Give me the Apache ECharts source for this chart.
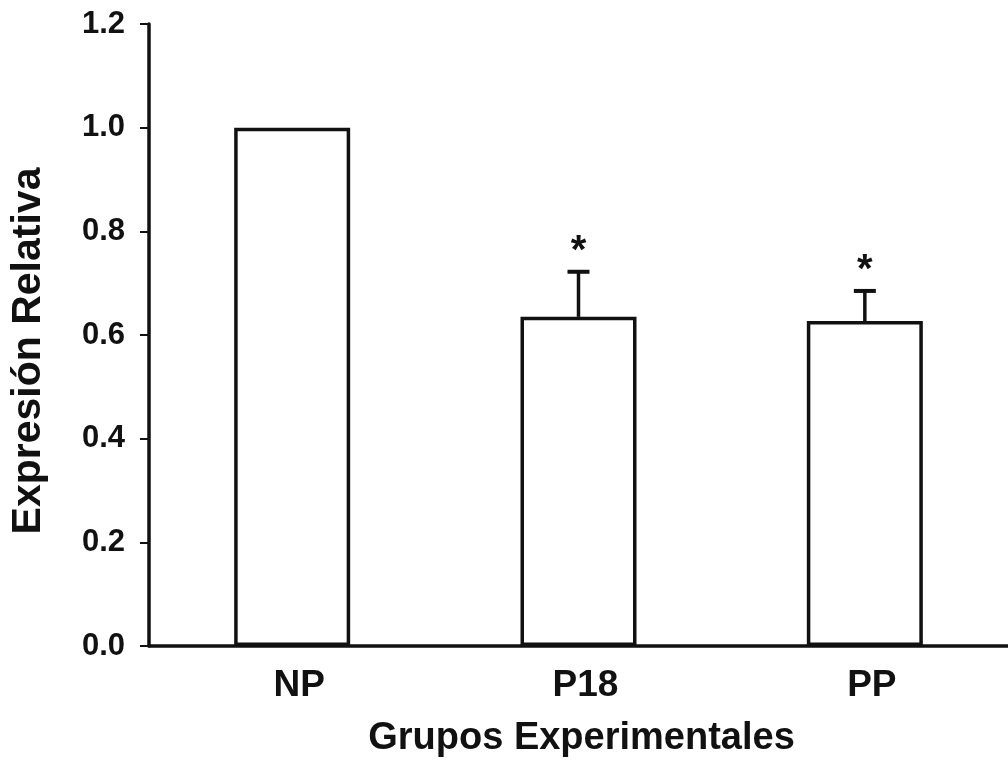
<!DOCTYPE html>
<html>
<head>
<meta charset="utf-8">
<script src="https://cdn.jsdelivr.net/npm/echarts@6/dist/echarts.min.js"></script>
<style>html,body{margin:0;padding:0;background:#fff;}#c{width:1008px;height:765px;}</style>
</head>
<body>
<div id="c"></div>
<script>
const categories = ['NP', 'P18', 'PP'];
const values = [1.0, 0.635, 0.627];
const errors = [0, 0.087, 0.058];
const marks = ['', '*', '*'];
const yTicks = [0, 0.2, 0.4, 0.6, 0.8, 1.0, 1.2];

const ink = '#111';
const font = '"Liberation Sans", Arial, sans-serif';
const chart = echarts.init(document.getElementById('c'));

const errData = categories.map((c, i) => [i, values[i], errors[i], marks[i]]);

chart.setOption({
  backgroundColor: '#fff',
  animation: false,
  grid: { left: 146, top: 24, height: 622, width: 864 },
  xAxis: {
    type: 'category',
    data: categories,
    name: 'Grupos Experimentales',
    nameLocation: 'middle',
    nameGap: 74,
    nameTextStyle: { fontFamily: font, fontWeight: 'bold', fontSize: 38, color: ink, padding: [0, 0, 0, 6] },
    axisLine: { lineStyle: { color: ink, width: 3.5 } },
    axisTick: { show: false },
    axisLabel: { fontFamily: font, fontWeight: 'bold', fontSize: 37, color: ink, margin: 21, padding: [0, 0, 0, 14] }
  },
  yAxis: {
    type: 'value',
    min: yTicks[0],
    max: yTicks[yTicks.length - 1],
    interval: 0.2,
    name: 'Expresión Relativa',
    nameLocation: 'middle',
    nameGap: 100,
    nameTextStyle: { fontFamily: font, fontWeight: 'bold', fontSize: 41, color: ink, padding: [0, 32, 0, 0] },
    axisLine: { show: true, lineStyle: { color: ink, width: 3.5 } },
    axisTick: { show: true, length: 9, lineStyle: { color: ink, width: 2 } },
    splitLine: { show: false },
    axisLabel: { fontFamily: font, fontWeight: 'bold', fontSize: 31, color: ink, margin: 24,
      formatter: v => v.toFixed(1) }
  },
  series: [
    {
      type: 'bar',
      data: values,
      barWidth: 116,
      itemStyle: { color: '#fff', borderColor: ink, borderWidth: 3.5 },
      z: 3
    },
    {
      type: 'custom',
      data: errData,
      z: 2,
      renderItem: function (params, api) {
        const i = api.value(0);
        const v = api.value(1);
        const e = api.value(2);
        const m = marks[params.dataIndex];
        const children = [];
        if (e > 0) {
          const p0 = api.coord([i, v]);
          const p1 = api.coord([i, v + e]);
          children.push({ type: 'line', shape: { x1: p0[0], y1: p0[1], x2: p1[0], y2: p1[1] },
            style: { stroke: ink, lineWidth: 3.5 } });
          children.push({ type: 'line', shape: { x1: p1[0] - 11, y1: p1[1], x2: p1[0] + 11, y2: p1[1] },
            style: { stroke: ink, lineWidth: 4 } });
          if (m) {
            children.push({ type: 'text', style: { text: m, x: p1[0], y: p1[1] - 20,
              align: 'center', verticalAlign: 'middle', fontFamily: font, fontWeight: 'bold',
              fontSize: 40, fill: ink } });
          }
        }
        return { type: 'group', children: children };
      }
    }
  ]
});
</script>
</body>
</html>
